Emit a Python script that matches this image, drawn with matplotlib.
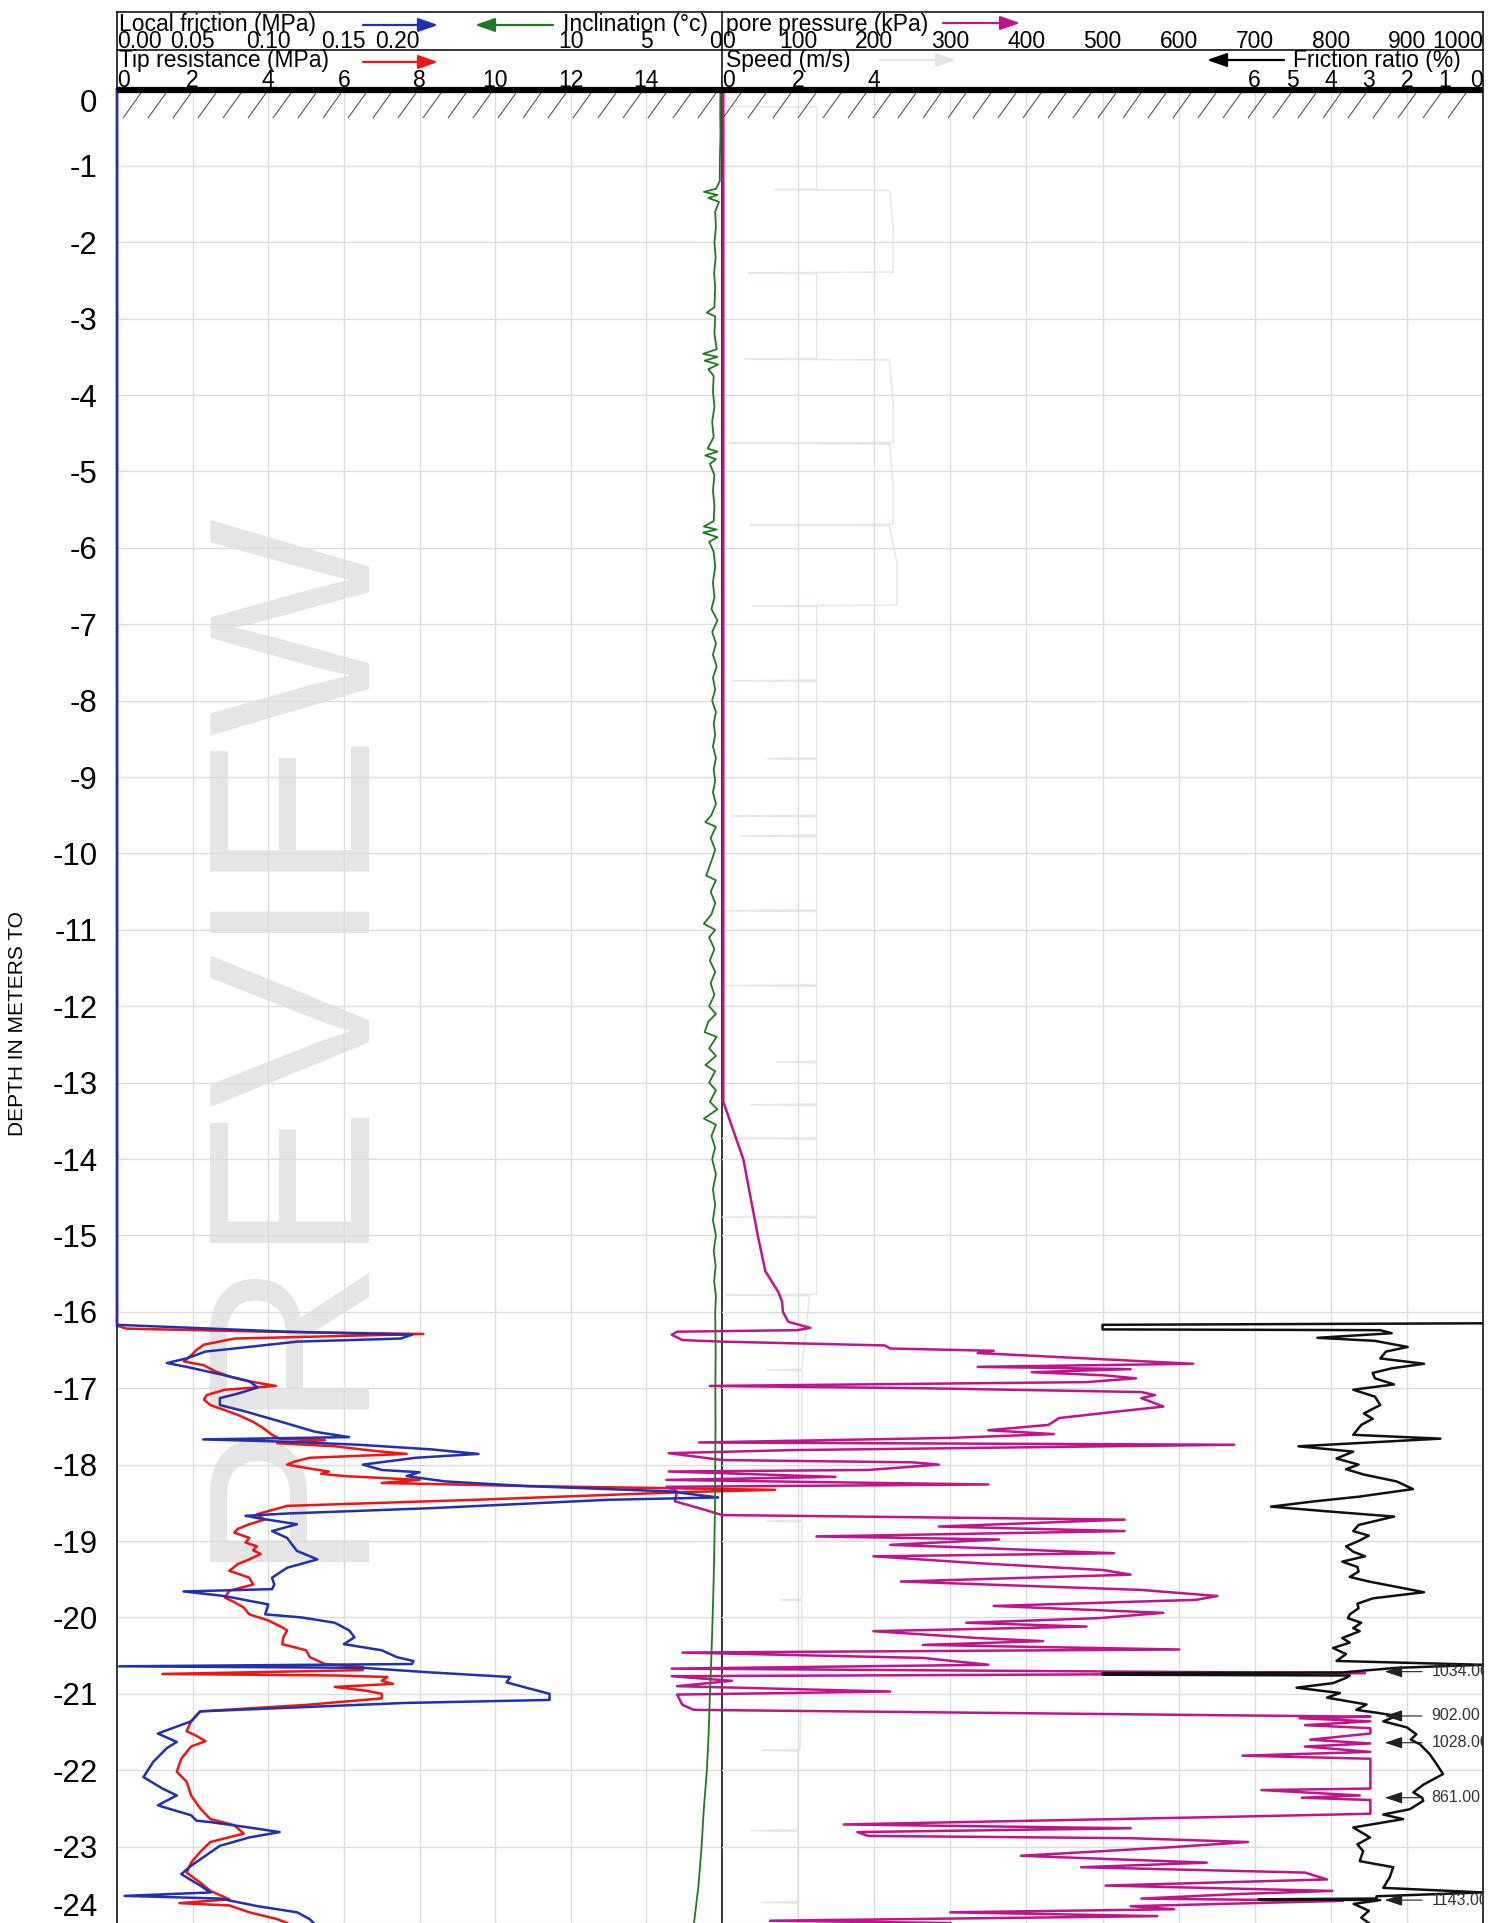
import matplotlib
matplotlib.use('Agg')
import matplotlib.pyplot as plt
from matplotlib.collections import LineCollection
from matplotlib.transforms import blended_transform_factory

plt.rcParams['font.family'] = ['Liberation Sans', 'DejaVu Sans']

# (depth m, tip resistance MPa)
qc_log = [(0.0, 0.0), (-16.18, 0.0), (-16.22, 0.25), (-16.26, 4.0), (-16.29, 8.1), (-16.35, 3.1),
          (-16.43, 2.3), (-16.50, 2.1), (-16.57, 1.96), (-16.65, 1.77), (-16.70, 2.3), (-16.78, 2.6),
          (-16.85, 3.0), (-16.91, 3.5), (-16.97, 4.2), (-17.02, 2.85), (-17.09, 2.37), (-17.15, 2.3),
          (-17.22, 2.47), (-17.35, 3.2), (-17.44, 3.6), (-17.52, 3.86), (-17.61, 4.1), (-17.66, 4.3),
          (-17.68, 5.5), (-17.72, 4.24), (-17.76, 5.76), (-17.82, 6.8), (-17.86, 7.66), (-17.91, 5.1),
          (-17.96, 4.7), (-18.00, 4.5), (-18.06, 5.2), (-18.09, 5.6), (-18.12, 5.4), (-18.15, 6.0),
          (-18.20, 8.0), (-18.24, 7.0), (-18.28, 10.8), (-18.33, 17.4), (-18.36, 15.0), (-18.46, 9.5),
          (-18.54, 4.5), (-18.65, 3.7), (-18.72, 3.9), (-18.78, 3.5), (-18.84, 3.2), (-18.89, 3.1),
          (-18.96, 3.5), (-19.02, 3.4), (-19.07, 3.7), (-19.12, 3.6), (-19.17, 3.8), (-19.24, 3.5),
          (-19.30, 3.2), (-19.39, 2.97), (-19.48, 3.5), (-19.57, 3.6), (-19.65, 2.97), (-19.74, 2.85),
          (-19.80, 3.1), (-19.87, 3.35), (-19.96, 3.5), (-20.04, 4.0), (-20.13, 4.37), (-20.17, 4.5),
          (-20.26, 4.4), (-20.35, 4.37), (-20.43, 5.0), (-20.52, 5.1), (-20.61, 5.5), (-20.65, 6.5),
          (-20.69, 6.5), (-20.74, 1.2), (-20.76, 5.76), (-20.78, 7.15), (-20.83, 7.0), (-20.87, 7.3),
          (-20.91, 5.76), (-20.96, 6.6), (-21.00, 7.0), (-21.06, 7.0), (-21.145, 5.0), (-21.23, 2.2),
          (-21.36, 1.96), (-21.49, 1.84), (-21.55, 2.1), (-21.62, 2.34), (-21.69, 1.96), (-21.85, 1.7),
          (-22.02, 1.58), (-22.15, 1.84), (-22.33, 1.96), (-22.50, 2.2), (-22.64, 2.47), (-22.72, 3.1),
          (-22.83, 3.35), (-22.94, 2.47), (-23.07, 2.2), (-23.21, 1.96), (-23.34, 1.84), (-23.47, 2.2),
          (-23.58, 2.47), (-23.69, 2.97), (-23.74, 1.65), (-23.77, 2.97), (-23.86, 3.5), (-23.95, 4.24),
          (-24.00, 4.5)]

# (depth m, local friction MPa)
fs_log = [(0.0, 0.0), (-16.17, 0.0), (-16.26, 0.1125), (-16.30, 0.195), (-16.35, 0.1875), (-16.39, 0.119),
          (-16.48, 0.0775), (-16.52, 0.0585), (-16.61, 0.046), (-16.67, 0.033), (-16.72, 0.046),
          (-16.83, 0.071), (-16.91, 0.0875), (-16.99, 0.093), (-17.07, 0.08), (-17.13, 0.068),
          (-17.22, 0.068), (-17.30, 0.084), (-17.39, 0.10), (-17.48, 0.1155), (-17.57, 0.131),
          (-17.64, 0.1535), (-17.67, 0.057), (-17.70, 0.1125), (-17.74, 0.16), (-17.80, 0.2075),
          (-17.86, 0.239), (-17.91, 0.1975), (-18.00, 0.1625), (-18.07, 0.175), (-18.10, 0.20),
          (-18.15, 0.1915), (-18.22, 0.217), (-18.28, 0.27), (-18.35, 0.365), (-18.43, 0.3975),
          (-18.46, 0.325), (-18.57, 0.2075), (-18.64, 0.1125), (-18.67, 0.085), (-18.70, 0.093),
          (-18.78, 0.119), (-18.87, 0.1025), (-18.96, 0.1125), (-19.04, 0.1155), (-19.13, 0.119),
          (-19.24, 0.1325), (-19.35, 0.1125), (-19.48, 0.1025), (-19.57, 0.104), (-19.63, 0.1025),
          (-19.66, 0.044), (-19.72, 0.071), (-19.83, 0.10), (-19.96, 0.098), (-20.00, 0.122),
          (-20.07, 0.144), (-20.17, 0.1535), (-20.26, 0.157), (-20.35, 0.15), (-20.43, 0.175),
          (-20.52, 0.185), (-20.57, 0.196), (-20.61, 0.195), (-20.64, 0.0015), (-20.66, 0.1625),
          (-20.72, 0.2075), (-20.78, 0.26), (-20.85, 0.2575), (-20.93, 0.2725), (-21.00, 0.286),
          (-21.08, 0.286), (-21.12, 0.19), (-21.23, 0.055), (-21.36, 0.049), (-21.52, 0.027),
          (-21.63, 0.0395), (-21.71, 0.033), (-21.89, 0.024), (-22.09, 0.0175), (-22.24, 0.03),
          (-22.33, 0.0395), (-22.46, 0.027), (-22.59, 0.049), (-22.66, 0.0525), (-22.68, 0.062),
          (-22.75, 0.0875), (-22.81, 0.1075), (-22.88, 0.0875), (-22.99, 0.068), (-23.12, 0.0585),
          (-23.25, 0.049), (-23.36, 0.0425), (-23.51, 0.055), (-23.60, 0.062), (-23.645, 0.005),
          (-23.68, 0.068), (-23.78, 0.093), (-23.86, 0.119), (-23.95, 0.1275), (-24.00, 0.13)]

# (depth m, pore pressure kPa)
u_log = [(0.0, 1.7), (-13.25, 1.7), (-14.0, 28), (-15.0, 47), (-15.47, 57), (-15.74, 74), (-15.87, 79),
         (-16.0, 80), (-16.13, 87), (-16.21, 116), (-16.24, 99), (-16.26, -59), (-16.30, -66),
         (-16.37, -52), (-16.39, 0), (-16.44, 214), (-16.48, 221), (-16.51, 357), (-16.54, 336),
         (-16.61, 479), (-16.68, 619), (-16.72, 336), (-16.75, 537), (-16.79, 407), (-16.83, 501),
         (-16.87, 544), (-16.92, 479), (-16.97, -16), (-17.00, 264), (-17.05, 551), (-17.09, 569),
         (-17.13, 551), (-17.24, 580), (-17.31, 515), (-17.39, 443), (-17.48, 429), (-17.55, 350),
         (-17.60, 436), (-17.65, 300), (-17.71, -30), (-17.74, 673), (-17.81, 92), (-17.85, -70),
         (-17.94, 0), (-17.97, 250), (-18.00, 285), (-18.07, 192), (-18.09, -70), (-18.16, 149),
         (-18.20, -73), (-18.26, 350), (-18.29, -73), (-18.35, -59), (-18.48, -62), (-18.57, -30),
         (-18.66, 0), (-18.72, 529), (-18.81, 285), (-18.87, 529), (-18.94, 124), (-18.98, 364),
         (-19.05, 221), (-19.09, 336), (-19.16, 515), (-19.20, 199), (-19.29, 336), (-19.38, 501),
         (-19.44, 537), (-19.53, 235), (-19.64, 551), (-19.72, 651), (-19.77, 623), (-19.85, 357),
         (-19.94, 580), (-20.01, 494), (-20.07, 321), (-20.12, 479), (-20.18, 199), (-20.27, 336),
         (-20.31, 422), (-20.36, 264), (-20.42, 601), (-20.46, -52), (-20.53, 264), (-20.62, 350),
         (-20.67, -66), (-20.73, 845), (-20.77, -66), (-20.83, 13), (-20.90, -59), (-20.97, 221),
         (-21.01, -59), (-21.145, -52), (-21.21, -37), (-21.30, 852), (-21.32, 759), (-21.36, 852),
         (-21.41, 766), (-21.45, 852), (-21.52, 852), (-21.60, 773), (-21.65, 852), (-21.69, 766),
         (-21.76, 852), (-21.81, 684), (-21.85, 852), (-22.24, 852), (-22.26, 709), (-22.33, 838),
         (-22.36, 762), (-22.39, 852), (-22.57, 852), (-22.61, 666), (-22.71, 160), (-22.76, 537),
         (-22.81, 178), (-22.86, 192), (-22.89, 537), (-22.94, 691), (-23.01, 587), (-23.12, 393),
         (-23.21, 637), (-23.27, 472), (-23.34, 766), (-23.43, 795), (-23.51, 504), (-23.58, 802),
         (-23.62, 680), (-23.68, 551), (-23.71, 816), (-23.78, 537), (-23.82, 594), (-23.86, 300),
         (-23.91, 572), (-23.97, 63), (-24.00, 300)]

# (depth m, friction ratio %)
rf_log = [(-16.15, 0.0), (-16.17, 10.0), (-16.23, 10.0), (-16.24, 2.7), (-16.28, 2.4), (-16.34, 4.35),
          (-16.38, 2.84), (-16.46, 1.98), (-16.52, 2.55), (-16.61, 2.7), (-16.68, 1.55), (-16.74, 2.4),
          (-16.80, 2.9), (-16.87, 2.84), (-16.95, 2.34), (-17.02, 3.41), (-17.11, 2.84), (-17.22, 2.7),
          (-17.33, 3.13), (-17.40, 2.9), (-17.48, 3.2), (-17.61, 3.41), (-17.66, 1.12), (-17.76, 4.85),
          (-17.83, 3.41), (-17.92, 3.85), (-18.00, 3.27), (-18.06, 3.6), (-18.13, 3.13), (-18.22, 2.27),
          (-18.32, 1.84), (-18.42, 3.27), (-18.48, 4.42), (-18.55, 5.57), (-18.61, 4.13), (-18.68, 2.34),
          (-18.79, 3.27), (-18.87, 3.41), (-18.93, 3.0), (-19.00, 3.27), (-19.07, 3.6), (-19.14, 3.41),
          (-19.20, 3.1), (-19.27, 3.7), (-19.34, 3.3), (-19.40, 3.27), (-19.47, 3.5), (-19.53, 3.0),
          (-19.67, 1.55), (-19.75, 2.89), (-19.82, 3.3), (-19.88, 3.27), (-19.96, 3.5), (-20.01, 3.55),
          (-20.07, 3.2), (-20.14, 3.41), (-20.18, 3.24), (-20.27, 3.7), (-20.33, 3.5), (-20.40, 3.94),
          (-20.48, 3.6), (-20.57, 3.85), (-20.62, 0.0), (-20.66, 2.27), (-20.72, 3.7), (-20.73, 10.0),
          (-20.75, 10.0), (-20.76, 3.5), (-20.79, 3.59), (-20.86, 3.94), (-20.92, 4.9), (-20.99, 3.76),
          (-21.05, 4.1), (-21.14, 3.06), (-21.21, 3.33), (-21.25, 2.76), (-21.29, 2.27), (-21.36, 2.62),
          (-21.44, 2.0), (-21.53, 1.75), (-21.60, 1.9), (-21.66, 1.66), (-21.79, 1.4), (-21.92, 1.22),
          (-22.05, 1.05), (-22.19, 1.57), (-22.29, 1.83), (-22.36, 1.6), (-22.40, 1.57), (-22.51, 1.92),
          (-22.58, 2.62), (-22.64, 2.1), (-22.75, 3.41), (-22.88, 2.97), (-22.97, 3.3), (-23.06, 3.15),
          (-23.19, 3.24), (-23.27, 2.36), (-23.40, 2.45), (-23.54, 2.62), (-23.60, 0.0), (-23.65, 2.8),
          (-23.68, 2.8), (-23.69, 5.9), (-23.70, 2.7), (-23.75, 3.4), (-23.84, 3.0), (-23.93, 3.2),
          (-24.00, 3.0)]

# (depth m, inclination deg)
inc_log = [(0.0, 0.10), (-0.30, 0.12), (-0.60, 0.10), (-0.90, 0.14), (-1.20, 0.15), (-1.30, 0.40),
           (-1.34, 1.20), (-1.38, 0.30), (-1.42, 0.90), (-1.47, 0.20), (-1.60, 0.45), (-1.80, 0.40),
           (-2.00, 0.50), (-2.20, 0.42), (-2.40, 0.52), (-2.60, 0.45), (-2.85, 0.50), (-2.92, 1.00),
           (-2.97, 0.45), (-3.20, 0.50), (-3.40, 0.35), (-3.46, 1.25), (-3.50, 0.30), (-3.55, 1.15),
           (-3.60, 0.25), (-3.66, 0.90), (-3.75, 0.55), (-3.95, 0.60), (-4.15, 0.50), (-4.35, 0.65),
           (-4.55, 0.55), (-4.70, 0.95), (-4.74, 0.30), (-4.79, 1.10), (-4.84, 0.40), (-4.90, 0.80),
           (-5.05, 0.50), (-5.25, 0.60), (-5.45, 0.50), (-5.65, 0.55), (-5.72, 1.20), (-5.76, 0.35),
           (-5.80, 1.25), (-5.86, 0.30), (-5.92, 0.85), (-6.05, 0.55), (-6.25, 0.45), (-6.45, 0.60),
           (-6.65, 0.50), (-6.80, 0.70), (-6.95, 0.30), (-7.10, 0.65), (-7.25, 0.40), (-7.40, 0.60),
           (-7.55, 0.35), (-7.70, 0.60), (-7.85, 0.45), (-8.00, 0.65), (-8.15, 0.40), (-8.30, 0.55),
           (-8.45, 0.45), (-8.60, 0.60), (-8.75, 0.40), (-8.90, 0.55), (-9.05, 0.45), (-9.20, 0.60),
           (-9.35, 0.40), (-9.50, 0.70), (-9.59, 1.10), (-9.65, 0.40), (-9.80, 0.75), (-9.95, 0.45),
           (-10.10, 0.70), (-10.29, 1.05), (-10.35, 0.40), (-10.50, 0.75), (-10.65, 0.45), (-10.80, 0.70),
           (-10.92, 1.20), (-11.00, 0.45), (-11.10, 0.85), (-11.25, 0.50), (-11.40, 0.80), (-11.55, 0.45),
           (-11.70, 0.75), (-11.85, 0.50), (-12.00, 0.85), (-12.10, 0.40), (-12.20, 0.90), (-12.34, 1.15),
           (-12.40, 0.35), (-12.55, 0.85), (-12.65, 0.40), (-12.77, 1.10), (-12.85, 0.45), (-13.00, 0.85),
           (-13.10, 0.40), (-13.25, 0.80), (-13.35, 0.30), (-13.47, 1.20), (-13.55, 0.40), (-13.70, 0.70),
           (-13.85, 0.45), (-14.00, 0.65), (-14.20, 0.40), (-14.40, 0.60), (-14.60, 0.45), (-14.80, 0.60),
           (-15.00, 0.40), (-15.20, 0.55), (-15.40, 0.42), (-15.60, 0.52), (-15.80, 0.40), (-16.00, 0.45),
           (-16.50, 0.42), (-17.00, 0.44), (-17.50, 0.43), (-18.00, 0.45), (-18.50, 0.46), (-19.00, 0.50),
           (-19.50, 0.55), (-20.00, 0.62), (-20.50, 0.70), (-21.00, 0.80), (-21.50, 0.88), (-22.00, 1.00),
           (-22.50, 1.20), (-23.00, 1.35), (-23.50, 1.55), (-24.00, 1.85)]

# (depth m, penetration speed)
v_log = [(0.0, 0.10), (-0.22, 0.10), (-0.23, 2.49), (-1.30, 2.49), (-1.31, 1.40), (-1.32, 4.40),
         (-1.80, 4.50), (-2.39, 4.50), (-2.40, 0.70), (-2.41, 2.49), (-3.52, 2.49), (-3.53, 0.60),
         (-3.54, 4.40), (-4.10, 4.50), (-4.62, 4.50), (-4.63, 0.20), (-4.64, 4.40), (-5.20, 4.50),
         (-5.69, 4.50), (-5.70, 0.75), (-5.71, 4.40), (-6.20, 4.60), (-6.75, 4.60), (-6.76, 0.80),
         (-6.77, 2.49), (-7.73, 2.49), (-7.74, 0.29), (-7.75, 2.49), (-8.75, 2.49), (-8.76, 1.20),
         (-8.77, 2.49), (-9.50, 2.49), (-9.51, 0.29), (-9.52, 2.49), (-9.76, 2.49), (-9.77, 0.45),
         (-9.78, 2.49), (-10.74, 2.49), (-10.75, 0.08), (-10.76, 2.49), (-11.72, 2.49), (-11.73, 0.00),
         (-11.74, 2.49), (-12.72, 2.49), (-12.73, 1.44), (-12.74, 2.49), (-13.28, 2.49), (-13.29, 0.74),
         (-13.30, 2.49), (-13.72, 2.49), (-13.73, 0.00), (-13.74, 2.49), (-14.75, 2.49), (-14.76, 0.00),
         (-14.77, 2.49), (-15.77, 2.49), (-15.78, 0.10), (-15.79, 2.30), (-16.75, 2.10), (-16.76, 1.18),
         (-16.77, 2.10), (-18.73, 2.10), (-18.74, 1.18), (-18.75, 2.10), (-19.76, 2.10), (-19.77, 1.55),
         (-19.78, 2.10), (-20.74, 2.10), (-20.75, 0.00), (-20.76, 2.10), (-21.73, 2.05), (-21.74, 1.05),
         (-21.75, 2.00), (-22.78, 2.00), (-22.79, 0.76), (-22.80, 2.00), (-23.72, 2.00), (-23.73, 1.05),
         (-23.74, 2.00), (-24.00, 2.00)]

# off-scale notes at the right edge
note_depths = [-20.71, -21.29, -21.64, -22.36, -23.70]
note_texts = ['1034.00', '902.00', '1028.00', '861.00', '1143.00']

depth_ticks = list(range(0, -25, -1))
fs_labels = [0.00, 0.05, 0.10, 0.15, 0.20]
inc_labels = [10, 5, 0]
qc_labels = [0, 2, 4, 6, 8, 10, 12, 14]
u_labels = [0, 100, 200, 300, 400, 500, 600, 700, 800, 900, 1000]
v_labels = [0, 2, 4]
rf_labels = [6, 5, 4, 3, 2, 1, 0]

RED, BLUE, MAGENTA, GREEN, GRAY = '#f01414', '#1f30b0', '#c0148c', '#1f7a1f', '#e9e5e5'
HEAD_FS = 16.5

W, H = 1505.0, 1923.0
X_LEFT, X_MID, X_RIGHT, Y_TOP = 117, 722, 1483, 89.5


def rect(x0, x1):
    return [x0 / W, 0.0, (x1 - x0) / W, (H - Y_TOP) / H]


def split(log):
    return [p[1] for p in log], [p[0] for p in log]


fig = plt.figure(figsize=(W / 100, H / 100), dpi=100)
left, right = rect(X_LEFT, X_MID), rect(X_MID, X_RIGHT)

ax_qc = fig.add_axes(left, zorder=1)
ax_u = fig.add_axes(right, sharey=ax_qc, zorder=1.5)
ax_v = fig.add_axes(right, sharey=ax_qc, zorder=1.2)
ax_fs = fig.add_axes(left, sharey=ax_qc, zorder=2)
ax_inc = fig.add_axes(left, sharey=ax_qc, zorder=2)
ax_rf = fig.add_axes(right, sharey=ax_qc, zorder=2.5)

ax_qc.set_xlim(0, 16)
ax_fs.set_xlim(0, 0.4)
ax_inc.set_xlim(40, 0)
ax_u.set_xlim(0, 1000)
ax_v.set_xlim(0, 20)
ax_rf.set_xlim(20, 0)
ax_qc.set_ylim(-24, 0)

for ax in (ax_v, ax_fs, ax_inc, ax_rf):
    ax.set_axis_off()

for ax in (ax_qc, ax_u):
    ax.patch.set_visible(False)
    ax.set_axisbelow(True)
    ax.grid(True, color='#dcdcdc', lw=1.0)
    ax.tick_params(axis='x', length=0, labelbottom=False)
    ax.spines['top'].set_visible(False)
    ax.spines['bottom'].set_visible(False)
    ax.spines['left'].set_linewidth(1.1)
    ax.spines['right'].set_linewidth(1.1)
ax_u.spines['left'].set_visible(False)

ax_qc.set_xticks(qc_labels[1:])
ax_u.set_xticks(u_labels[1:-1])
ax_qc.set_yticks(depth_ticks)
ax_qc.set_yticklabels([str(d) for d in depth_ticks])
ax_qc.tick_params(axis='y', length=0, pad=14, labelsize=22.5)
ax_u.tick_params(axis='y', length=0, labelleft=False)
for lab in ax_qc.get_yticklabels():
    if lab.get_text() == '0':
        lab.set_va('top')
    elif lab.get_text() == '-24':
        lab.set_va('bottom')

# watermark
ax_qc.text(0.387, 0.487, 'PREVIEW', transform=ax_qc.transAxes, rotation=90, rotation_mode='anchor',
           ha='center', va='baseline', fontsize=166, color='#e5e5e5', zorder=0.2)

x, y = split(qc_log)
ax_qc.plot(x, y, color=RED, lw=1.8, clip_on=False)
x, y = split(fs_log)
ax_fs.plot(x, y, color=BLUE, lw=1.8, clip_on=False)
x, y = split(inc_log)
ax_inc.plot(x, y, color=GREEN, lw=1.3)
x, y = split(v_log)
ax_v.plot(x, y, color=GRAY, lw=1.1)
x, y = split(u_log)
ax_u.plot(x, y, color=MAGENTA, lw=1.8, clip_on=False)
x, y = split(rf_log)
ax_rf.plot(x, y, color='#111111', lw=1.8)

for d, s in zip(note_depths, note_texts):
    ax_rf.annotate('', xy=(2.58, d), xytext=(1.6, d),
                   arrowprops=dict(arrowstyle='-|>,head_length=0.9,head_width=0.3', color='#222222',
                                   lw=0.8, mutation_scale=12, shrinkA=0, shrinkB=0))
    ax_rf.text(1.35, d, s, ha='left', va='center', fontsize=11.5, color='#333333', clip_on=True)

fig.text(18 / W, 1 - 1024 / H, 'DEPTH IN METERS TO', rotation=90, ha='center', va='center', fontsize=15)

# header block, ground line and hatching drawn in pixel space
deco = fig.add_axes([0, 0, 1, 1], zorder=3)
deco.set_xlim(0, W)
deco.set_ylim(H, 0)
deco.set_axis_off()

for xs, ys in [([X_LEFT, X_RIGHT], [12, 12]), ([X_LEFT, X_RIGHT], [50, 50]),
               ([X_LEFT, X_LEFT], [12, 90]), ([X_MID, X_MID], [12, 90]), ([X_RIGHT, X_RIGHT], [12, 90])]:
    deco.plot(xs, ys, color='black', lw=1.1)
deco.plot([X_LEFT, X_RIGHT], [90, 90], color='black', lw=4.5, solid_capstyle='butt')
hatch = [[(x0, 118), (x0 + 18, 93)] for x0 in range(X_LEFT + 6, X_RIGHT - 18, 25)]
deco.add_collection(LineCollection(hatch, colors='#555555', linewidths=0.8))


def head_ticks(ax, values, y, fmt):
    tr = blended_transform_factory(ax.transData, deco.transData)
    lo, hi = ax.get_xlim()
    for i, val in enumerate(values):
        ha = 'center'
        if lo < hi and i == 0 and val == lo:
            ha = 'left'
        if lo > hi and val == 0:
            ha = 'right'
        if lo < hi and i == len(values) - 1 and val == hi:
            ha = 'right'
        deco.text(val, y, fmt(val), transform=tr, ha=ha, va='baseline', fontsize=HEAD_FS)


head_ticks(ax_fs, fs_labels[:-1], 47.5, lambda v: '%.2f' % v)
deco.text(fs_labels[-1], 47.5, '%.2f' % fs_labels[-1],
          transform=blended_transform_factory(ax_fs.transData, deco.transData),
          ha='right', va='baseline', fontsize=HEAD_FS)
head_ticks(ax_inc, inc_labels, 47.5, lambda v: '%d' % v)
head_ticks(ax_u, u_labels, 47.5, lambda v: '%d' % v)
head_ticks(ax_qc, qc_labels, 87, lambda v: '%d' % v)
head_ticks(ax_v, v_labels, 87, lambda v: '%d' % v)
head_ticks(ax_rf, rf_labels, 87, lambda v: '%d' % v)

deco.text(119, 30.5, 'Local friction (MPa)', ha='left', va='baseline', fontsize=HEAD_FS)
deco.text(708, 30.5, 'Inclination (\u00b0c)', ha='right', va='baseline', fontsize=HEAD_FS)
deco.text(726, 30.5, 'pore pressure (kPa)', ha='left', va='baseline', fontsize=HEAD_FS)
deco.text(119, 66.5, 'Tip resistance (MPa)', ha='left', va='baseline', fontsize=HEAD_FS)
deco.text(726, 66.5, 'Speed (m/s)', ha='left', va='baseline', fontsize=HEAD_FS)
deco.text(1461, 66.5, 'Friction ratio (%)', ha='right', va='baseline', fontsize=HEAD_FS)

for x0, x1, yy, col in [(363, 438, 25, BLUE), (553, 475, 25, GREEN), (363, 438, 62, RED),
                        (943, 1020, 23, MAGENTA), (880, 956, 60, '#e4e4e4'), (1284, 1207, 60, 'black')]:
    deco.annotate('', xy=(x1, yy), xytext=(x0, yy),
                  arrowprops=dict(arrowstyle='-|>,head_length=1.0,head_width=0.35', color=col,
                                  lw=1.6, mutation_scale=12, shrinkA=0, shrinkB=0))

fig.savefig('out.png', dpi=100)
